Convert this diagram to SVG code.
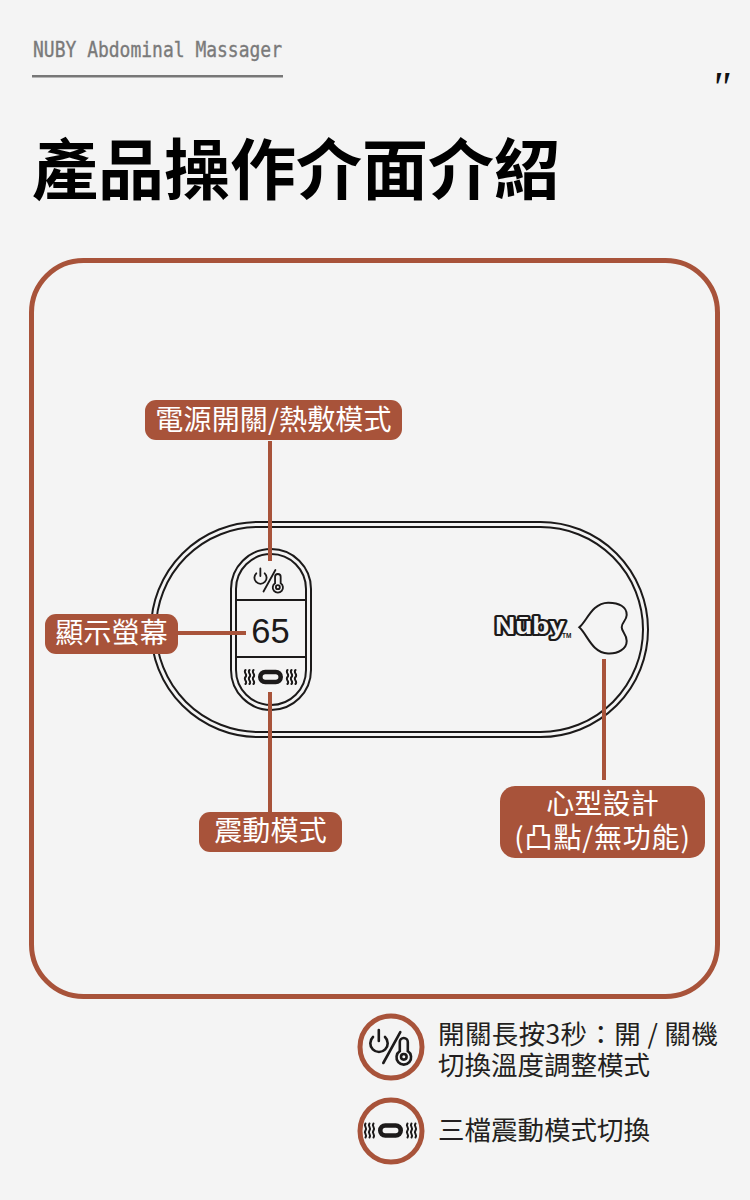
<svg xmlns="http://www.w3.org/2000/svg" width="750" height="1200" viewBox="0 0 750 1200">
<style>
.cjk{font-family:"Noto Sans CJK TC","Liberation Sans",sans-serif}
.lab{font-size:28px;fill:#fff;text-anchor:middle;letter-spacing:.15px}
.note{font-size:26.5px;fill:#231f20}
.pill{fill:#a8533a}
.conn{stroke:#a8533a;stroke-width:4;fill:none}
.ln{fill:none;stroke:#1c1a1a;stroke-width:2}
.ring{fill:none;stroke:#a8533a;stroke-width:5}
</style>
<defs>
<g id="power-temp" fill="none" stroke="#1c1a1a" stroke-linecap="round" stroke-width="2.6">
<path d="M-17-10A8.700 8.700 0 1 0-5-10M-11.200-17V-6"/>
<path d="M-6.700 16 10.300-14.800"/>
<path d="M9.800 4.200V-5a4 4 0 0 1 8 0V4.200a7.300 7.300 0 1 1-8 0Z"/>
<circle cx="13.800" cy="9.800" r="2.800"/>
</g>
<g id="vib-icon" fill="none" stroke="#1c1a1a" stroke-linecap="round">
<rect x="-10.200" y="-5" width="20.400" height="10" rx="5" stroke-width="4.600"/>
<path d="M-25-7c-2.500 3 2.500 4 0 7s2.500 4 0 7M-21-7c-2.500 3 2.500 4 0 7s2.500 4 0 7M-17-7c-2.500 3 2.500 4 0 7s2.500 4 0 7M17-7c-2.500 3 2.500 4 0 7s2.500 4 0 7M21-7c-2.500 3 2.500 4 0 7s2.500 4 0 7M25-7c-2.500 3 2.500 4 0 7s2.500 4 0 7" stroke-width="2"/>
</g>
</defs>
<rect width="750" height="1200" fill="#f4f4f4"/>

<g id="header">
<text x="33" y="56.500" font-family="DejaVu Sans Mono,monospace" font-size="21" fill="#7a7a7a" stroke="#7a7a7a" stroke-width=".35" textLength="249" lengthAdjust="spacingAndGlyphs">NUBY Abdominal Massager</text>
<rect x="32" y="75" width="251" height="2.500" fill="#777"/>
<text x="711" y="102" font-family="Liberation Serif,serif" font-size="44" font-style="italic" fill="#111">"</text>
<text x="32" y="194" class="cjk" font-size="66" font-weight="700" fill="#000">產品操作介面介紹</text>
</g>

<rect id="frame" x="31.500" y="260.500" width="686" height="736" rx="52" fill="none" stroke="#a8533a" stroke-width="5"/>

<g id="device">
<rect x="151" y="522" width="497" height="215" rx="107.500" class="ln"/>
<rect x="156" y="527" width="487" height="205" rx="102.500" class="ln"/>
<rect x="231" y="549" width="80" height="161" rx="40" class="ln"/>
<rect x="236" y="554" width="70" height="151" rx="35" class="ln"/>
<path d="M236 600H306M236 657H306" class="ln"/>
<use href="#power-temp" transform="translate(268.200 580.300) scale(.7)"/>
<text x="270.500" y="643" font-family="Liberation Sans,sans-serif" font-size="34.500" fill="#1c1a1a" text-anchor="middle">65</text>
<use href="#vib-icon" transform="translate(270.500 677)"/>
<text x="495" y="634" font-family="Liberation Sans,sans-serif" font-size="23" font-weight="700" fill="#f4f4f4" stroke="#1c1a1a" stroke-width="4.200" paint-order="stroke" stroke-linejoin="round" textLength="70" lengthAdjust="spacingAndGlyphs">Nūby</text>
<text x="562" y="638" font-family="Liberation Sans,sans-serif" font-size="6.500" font-weight="700" fill="#1c1a1a">TM</text>
<path d="M579.300 627.300C587 621 592 603 608 602.700C619 602.500 627 607 626.700 615C626.500 621 621.700 622 621.700 627.300C621.700 632 626.700 634 626.700 641C626.700 649 618 654 608 653.500C592 653 587 634 579.300 627.300Z" class="ln"/>
</g>

<g id="connectors">
<path d="M270 441V561" class="conn"/>
<path d="M176 633H246" class="conn"/>
<path d="M270 692V814" class="conn"/>
<path d="M604 659V780" class="conn"/>
</g>

<g id="node-power">
<rect x="145" y="400" width="257" height="40" rx="11" class="pill"/>
<text x="273.500" y="430" class="cjk lab">電源開關/熱敷模式</text>
</g>
<g id="node-display">
<rect x="45" y="614" width="133" height="40" rx="11" class="pill"/>
<text x="111.500" y="643" class="cjk lab">顯示螢幕</text>
</g>
<g id="node-vibration">
<rect x="199" y="812" width="143" height="40" rx="11" class="pill"/>
<text x="270.500" y="841" class="cjk lab">震動模式</text>
</g>
<g id="node-heart">
<rect x="500" y="786" width="205" height="72" rx="15" class="pill"/>
<text class="cjk lab"><tspan x="602.500" y="814">心型設計</tspan><tspan x="602.500" y="848" letter-spacing=".8">(凸點/無功能)</tspan></text>
</g>

<g id="legend-power">
<circle cx="391" cy="1047" r="31" class="ring"/>
<use href="#power-temp" transform="translate(390 1047)"/>
<text class="cjk note"><tspan x="438" y="1044" textLength="280">開關長按3秒：開 / 關機</tspan><tspan x="438" y="1075">切換溫度調整模式</tspan></text>
</g>
<g id="legend-vibration">
<circle cx="391" cy="1131" r="31" class="ring"/>
<use href="#vib-icon" transform="translate(390.500 1130.500)"/>
<text x="438" y="1140" class="cjk note">三檔震動模式切換</text>
</g>
</svg>
